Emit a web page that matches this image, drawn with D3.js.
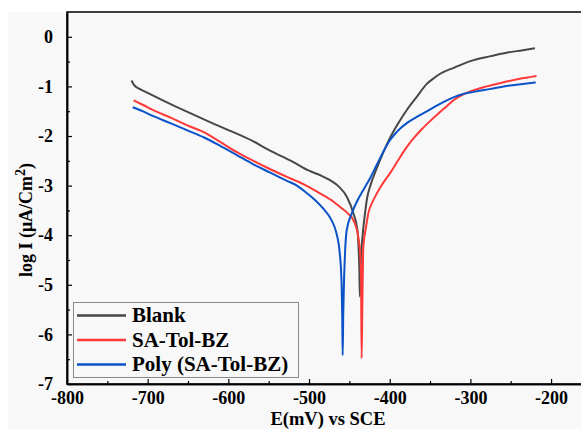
<!DOCTYPE html>
<html>
<head>
<meta charset="utf-8">
<script src="https://cdn.jsdelivr.net/npm/d3@7"></script>
<style>
  body { margin: 0; background: #ffffff; }
  svg text { font-family: "Liberation Serif", "Times New Roman", serif; font-weight: bold; }
</style>
</head>
<body>
<div id="container"></div>
<script>
const w = 581;
const h = 429;

// series names and colours
const seriesNames = ["Blank", "SA-Tol-BZ", "Poly (SA-Tol-BZ)"];
const seriesColors = ["#474747", "#ff3838", "#0a52c8"];

// Blank
const blankE = [-720, -717, -710, -700, -680, -650, -620, -600, -570, -550, -520, -500, -485, -474, -463, -453, -445, -440, -438.5, -437.6, -437,
  -436, -434.7, -432.7, -430.6, -428, -424, -416, -408, -400, -390, -379, -366, -354, -345, -338, -320, -296, -275, -255, -235, -220];
const blankLogI = [-0.88, -0.97, -1.05, -1.13, -1.29, -1.52, -1.74, -1.88, -2.1, -2.28, -2.52, -2.7, -2.8, -2.89, -3.02, -3.23, -3.56, -3.9, -4.3, -4.7, -5.24,
  -4.6, -4.23, -3.85, -3.56, -3.25, -3.0, -2.65, -2.33, -2.05, -1.76, -1.48, -1.2, -0.95, -0.83, -0.75, -0.62, -0.47, -0.39, -0.32, -0.27, -0.23];

// SA-Tol-BZ
const saE = [-717.5, -705, -693, -670, -651.6, -627, -610, -590, -569, -548, -528, -507, -486, -470, -461.6, -452, -445, -439, -436.5, -435.5, -434.8,
  -434, -433.2, -432.7, -429.5, -426.5, -421, -416, -411, -405.8, -400, -390, -380, -370, -360, -350, -340, -330, -320, -310, -300, -280, -260, -240, -218];
const saLogI = [-1.28, -1.38, -1.48, -1.64, -1.78, -1.95, -2.12, -2.32, -2.5, -2.67, -2.82, -2.97, -3.16, -3.32, -3.43, -3.56, -3.7, -4.03, -4.4, -4.9, -6.48,
  -5.5, -4.6, -4.23, -3.85, -3.56, -3.32, -3.16, -3.02, -2.89, -2.76, -2.5, -2.25, -2.04, -1.86, -1.7, -1.55, -1.41, -1.27, -1.17, -1.1, -1.0, -0.92, -0.85, -0.79];

// Poly (SA-Tol-BZ)
const polyE = [-718.6, -705, -693, -672, -651.6, -630, -610, -590, -569, -548, -528, -515, -503, -492, -482, -472, -466, -462, -459.8, -458.8, -458.3,
  -457.6, -456.6, -455.5, -453.3, -447, -440, -432, -424, -416, -408, -400, -393, -387, -378, -368, -358, -345, -333, -321, -310, -296, -275, -255, -235, -219];
const polyLogI = [-1.42, -1.51, -1.6, -1.74, -1.88, -2.03, -2.2, -2.38, -2.57, -2.74, -2.9, -3.0, -3.15, -3.3, -3.47, -3.7, -3.96, -4.35, -4.9, -5.7, -6.42,
  -5.6, -4.9, -4.4, -3.9, -3.56, -3.3, -3.07, -2.84, -2.58, -2.32, -2.09, -1.95, -1.85, -1.73, -1.63, -1.54, -1.42, -1.31, -1.22, -1.16, -1.11, -1.05, -0.99, -0.95, -0.92];

// axis ticks
const xTicks = [-800, -700, -600, -500, -400, -300, -200];
const xMinorTicks = [-750, -650, -550, -450, -350, -250, -150];
const yTicks = [-7, -6, -5, -4, -3, -2, -1, 0];
const yMinorTicks = [-6.5, -5.5, -4.5, -3.5, -2.5, -1.5, -0.5];

const seriesE = [blankE, saE, polyE];
const seriesLogI = [blankLogI, saLogI, polyLogI];

const svg = d3.select("#container")
              .append("svg")
              .attr("width", w)
              .attr("height", h);

// light grey figure background
svg.append("rect")
   .attr("x", 8)
   .attr("y", 12)
   .attr("width", w - 8)
   .attr("height", h - 12)
   .attr("fill", "#f8f8f8");

const x = d3.scaleLinear().domain([-800, -150]).range([67, 591.4]);
const y = d3.scaleLinear().domain([-7, 0.5]).range([384, 12]);

const line = d3.line()
               .x(d => x(d[0]))
               .y(d => y(d[1]))
               .curve(d3.curveMonotoneX);

seriesNames.forEach((name, i) => {
  const pts = seriesE[i].map((e, j) => [e, seriesLogI[i][j]]);
  svg.append("path")
     .datum(pts)
     .attr("d", line)
     .attr("fill", "none")
     .attr("stroke", seriesColors[i])
     .attr("stroke-width", 2)
     .attr("stroke-linejoin", "round");
});

// frame
svg.append("rect")
   .attr("x", x(-800))
   .attr("y", y(0.5))
   .attr("width", x(-150) - x(-800))
   .attr("height", y(-7) - y(0.5))
   .attr("fill", "none")
   .attr("stroke", "#000")
   .attr("stroke-width", 1.5);

// plain hyphen for negative numbers, like the original
const fmt = d => String(d);

// x axis
svg.append("g")
   .attr("transform", `translate(0,${y(-7)})`)
   .call(d3.axisBottom(x).tickValues(xTicks).tickFormat(fmt).tickSizeInner(-5).tickSizeOuter(0).tickPadding(7));
svg.append("g")
   .attr("transform", `translate(0,${y(-7)})`)
   .call(d3.axisBottom(x).tickValues(xMinorTicks).tickSizeInner(-3).tickSizeOuter(0).tickFormat(""));

// y axis
svg.append("g")
   .attr("transform", `translate(${x(-800)},0)`)
   .call(d3.axisLeft(y).tickValues(yTicks).tickFormat(fmt).tickSizeInner(-5).tickSizeOuter(0).tickPadding(14));
svg.append("g")
   .attr("transform", `translate(${x(-800)},0)`)
   .call(d3.axisLeft(y).tickValues(yMinorTicks).tickSizeInner(-3).tickSizeOuter(0).tickFormat(""));

svg.selectAll(".domain").attr("stroke", "#000").attr("stroke-width", 1.5);
svg.selectAll(".tick line").attr("stroke", "#000").attr("stroke-width", 1.2);
svg.selectAll(".tick text")
   .style("font-family", "'Liberation Serif', serif")
   .style("font-weight", "bold")
   .style("font-size", "18px")
   .attr("fill", "#000");

// axis titles
svg.append("text")
   .attr("x", 328)
   .attr("y", 425)
   .attr("text-anchor", "middle")
   .style("font-size", "18.5px")
   .text("E(mV) vs SCE");

const yTitle = svg.append("text")
   .attr("transform", "translate(32,220) rotate(-90)")
   .attr("text-anchor", "middle")
   .style("font-size", "18px");
yTitle.append("tspan").text("log I (\u03bcA/Cm");
yTitle.append("tspan").attr("dy", -7).style("font-size", "14px").text("2");
yTitle.append("tspan").attr("dy", 7).text(")");

// legend
const legend = svg.append("g");
legend.append("rect")
      .attr("x", 73.5)
      .attr("y", 302.5)
      .attr("width", 225)
      .attr("height", 75)
      .attr("fill", "#f8f8f8")
      .attr("stroke", "#8a8a8a")
      .attr("stroke-width", 1);

const legendRows = legend.selectAll("g.item")
                         .data(seriesNames)
                         .enter()
                         .append("g")
                         .attr("class", "item")
                         .attr("transform", (d, i) => `translate(0,${315.5 + i * 24.5})`);

legendRows.append("line")
          .attr("x1", 77)
          .attr("x2", 126)
          .attr("stroke", (d, i) => seriesColors[i])
          .attr("stroke-width", 2.5);

legendRows.append("text")
          .attr("x", 132)
          .attr("dy", "0.33em")
          .style("font-size", "21px")
          .text(d => d);
</script>
</body>
</html>
